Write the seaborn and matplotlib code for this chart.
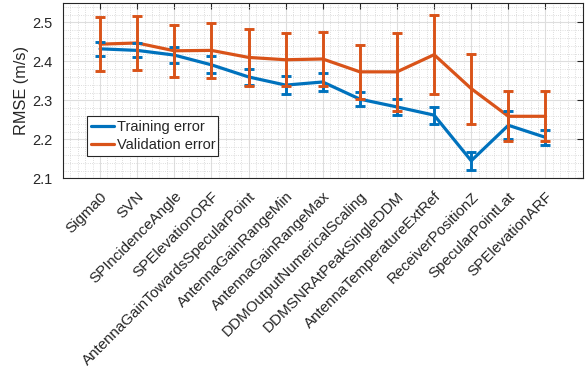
import numpy as np
import pandas as pd
import matplotlib
matplotlib.use("Agg")
import matplotlib.pyplot as plt
from matplotlib.ticker import MultipleLocator
import seaborn as sns

features = [
    "Sigma0", "SVN", "SPIncidenceAngle", "SPElevationORF",
    "AntennaGainTowardsSpecularPoint", "AntennaGainRangeMin",
    "AntennaGainRangeMax", "DDMOutputNumericalScaling",
    "DDMSNRAtPeakSingleDDM", "AntennaTemperatureExtRef",
    "ReceiverPositionZ", "SpecularPointLat", "SPElevationARF",
]
train_rmse = [2.432, 2.428, 2.416, 2.391, 2.360, 2.339, 2.347,
              2.303, 2.283, 2.262, 2.145, 2.236, 2.205]
train_err = [0.018, 0.018, 0.020, 0.022, 0.020, 0.023, 0.022,
             0.018, 0.020, 0.022, 0.023, 0.036, 0.019]
val_rmse = [2.444, 2.447, 2.427, 2.428, 2.410, 2.404, 2.406,
            2.373, 2.373, 2.417, 2.330, 2.259, 2.259]
val_err = [0.070, 0.070, 0.067, 0.070, 0.073, 0.068, 0.069,
           0.070, 0.100, 0.101, 0.090, 0.064, 0.064]
y_ticks = [2.1, 2.2, 2.3, 2.4, 2.5]

series_names = ["Training error", "Validation error"]
colors = ["#0072BD", "#D95319"]
ink = "#262626"

pos = np.arange(1, len(features) + 1)
df = pd.DataFrame({
    "pos": np.concatenate([pos, pos]),
    "rmse": train_rmse + val_rmse,
    "err": train_err + val_err,
    "series": [series_names[0]] * len(pos) + [series_names[1]] * len(pos),
})

sns.set_theme(style="white")
plt.rcParams["font.family"] = ["Liberation Sans", "DejaVu Sans"]

fig = plt.figure(figsize=(5.88, 3.75), dpi=100)
ax = fig.add_axes([0.107, 0.5245, 0.8838, 0.468])

sns.lineplot(data=df, x="pos", y="rmse", hue="series", palette=colors,
             linewidth=2.3, ax=ax, legend=True, zorder=3)

for name, col in zip(series_names, colors):
    sub = df[df["series"] == name]
    ax.errorbar(sub["pos"], sub["rmse"], yerr=sub["err"], fmt="none",
                ecolor=col, elinewidth=2.1, capsize=3.4, capthick=2.1,
                zorder=3)

ax.set_xlim(0, 14)
ax.set_ylim(2.1, 2.55)
ax.set_xticks(pos)
ax.set_xticklabels(features, rotation=45, ha="right", va="top",
                   rotation_mode="anchor", fontsize=10.9, color=ink)
ax.set_yticks(y_ticks)
ax.set_yticklabels([f"{v:.1f}" for v in y_ticks], fontsize=10.5, color=ink)
ax.xaxis.set_minor_locator(MultipleLocator(0.2))
ax.yaxis.set_minor_locator(MultipleLocator(0.02))
ax.set_xlabel("")
ax.set_ylabel("RMSE (m/s)", fontsize=11.7, color=ink, labelpad=2)

ax.grid(which="major", color="#dedede", linewidth=0.8, linestyle="-")
ax.grid(which="minor", color="#d2d2d2", linewidth=0.6, linestyle=":")
ax.set_axisbelow(True)

ax.tick_params(which="major", direction="in", length=4, width=0.8,
               top=True, right=True, color=ink)
ax.tick_params(axis="x", which="major", pad=8)
ax.tick_params(axis="y", which="major", pad=7.5)
ax.tick_params(which="minor", length=0)
for sp in ax.spines.values():
    sp.set_color(ink)
    sp.set_linewidth(0.8)

leg = ax.legend(loc="lower left", bbox_to_anchor=(0.047, 0.127, 0.251, 0.234),
                mode="expand", fontsize=10.5, frameon=True, fancybox=False,
                framealpha=1, edgecolor=ink, handlelength=1.6,
                borderpad=0.25, borderaxespad=0, labelspacing=0.3,
                handletextpad=0.2)
leg.get_frame().set_linewidth(0.8)
for line in leg.get_lines():
    line.set_linewidth(2.3)

fig.savefig("out.png", dpi=100)
